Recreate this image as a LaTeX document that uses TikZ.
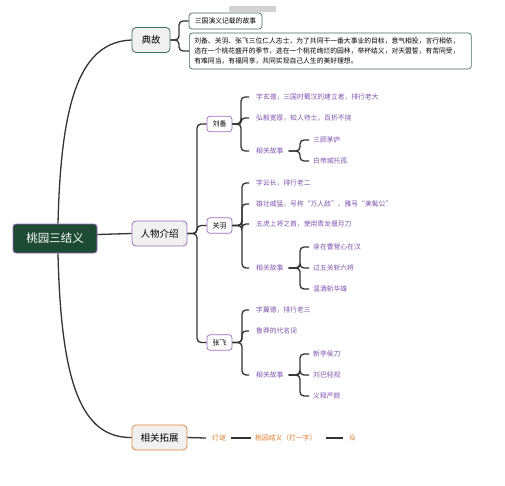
\documentclass[tikz,border=0pt]{standalone}
\usepackage{fontspec}
\setmainfont{Noto Sans CJK SC}
\usepackage{xcolor}
\usetikzlibrary{positioning}
\definecolor{rootgreen}{HTML}{1C4A33}
\definecolor{lilac}{HTML}{9A6CC0}
\definecolor{sage}{HTML}{3F6E5C}
\definecolor{amber}{HTML}{E0843E}
\definecolor{boxgray}{HTML}{F1F1F1}
\definecolor{linegray}{HTML}{333333}
\definecolor{leafpurple}{HTML}{7E52AE}
\definecolor{leaforange}{HTML}{E07A28}

\begin{document}
\begin{tikzpicture}[x=1pt,y=-1pt,
  rootbox/.style={draw=lilac,fill=rootgreen,text=white,rounded corners=3pt,line width=0.8pt,
    minimum width=84pt,minimum height=29pt,inner sep=0pt,font=\fontsize{11.5}{12}\selectfont},
  mainbox/.style={fill=boxgray,rounded corners=4pt,line width=0.8pt,minimum height=25pt,
    inner sep=0pt,font=\fontsize{9.5}{10}\selectfont},
  notebox/.style={draw=sage,fill=white,rounded corners=3pt,line width=0.7pt,inner sep=0pt,
    font=\fontsize{6.8}{10}\selectfont},
  namebox/.style={draw=lilac,fill=white,rounded corners=3pt,line width=0.7pt,minimum width=25pt,
    minimum height=15.5pt,inner sep=0pt,font=\fontsize{7}{8}\selectfont},
  leaf/.style={anchor=west,text=leafpurple,inner sep=0pt,font=\fontsize{6.8}{8}\selectfont},
  riddle/.style={anchor=west,text=leaforange,inner sep=0pt,font=\fontsize{6.8}{8}\selectfont},
  link/.style={draw=linegray,line width=1.3pt},
  bracket/.style={link,rounded corners=4pt}]
\useasboundingbox (0,0) rectangle (505,485);

%Watermark strip
\fill[gray!35,rounded corners=1pt] (229,6) rectangle (276,12);

%Root
\node[rootbox] (root) at (55,238.5) {桃园三结义};

%Main branches
\node[mainbox,draw=sage,minimum width=38pt] (dg) at (151,40) {典故};
\node[mainbox,draw=lilac,minimum width=55pt] (rw) at (159.5,233.5) {人物介绍};
\node[mainbox,draw=amber,minimum width=55pt] (tz) at (159.5,437.5) {相关拓展};

\draw[link] ([xshift=3pt]root.north) .. controls (61,95) and (82,42) .. (dg.west);
\draw[link] ([yshift=4pt]root.east) -- (rw.west);
\draw[link] ([xshift=3pt]root.south) .. controls (61,385) and (82,438) .. (tz.west);

%Branch: dian gu
\node[notebox,minimum width=73pt,minimum height=16pt] (dg1) at (225.5,21) {三国演义记载的故事};
\node[notebox,anchor=west,text width=272pt,inner xsep=5pt,minimum height=36pt,align=left] (dg2) at (189,51)
  {刘备、关羽、张飞三位仁人志士，为了共同干一番大事业的目标，意气相投，言行相依，\\
   选在一个桃花盛开的季节，选在一个桃花绚烂的园林，举杯结义，对天盟誓，有苦同受，\\
   有难同当，有福同享，共同实现自己人生的美好理想。};
\foreach \c in {dg1,dg2}
  \draw[bracket] (dg.east) -- (179,40) |- (\c.west);

%Branch: ren wu
\node[namebox] (lb) at (219.5,124) {刘备};
\node[namebox] (gy) at (219.5,225.5) {关羽};
\node[namebox] (zf) at (219.5,342.5) {张飞};
\foreach \c in {lb,gy,zf}
  \draw[bracket] (rw.east) -- (197,233.5) |- (\c.west);

% Liu Bei
\node[leaf] (lb1) at (256,97) {字玄德，三国时蜀汉的建立者，排行老大};
\node[leaf] (lb2) at (256,118) {弘毅宽厚，知人待士，百折不挠};
\node[leaf] (lb3) at (256,151) {相关故事};
\foreach \c in {lb1,lb2,lb3}
  \draw[bracket] (lb.east) -- (241,124) |- ([xshift=-7pt]\c.west);
\node[leaf] (lb31) at (313,140) {三顾茅庐};
\node[leaf] (lb32) at (313,161) {白帝城托孤};
\foreach \c in {lb31,lb32}
  \draw[bracket] ([xshift=5pt]lb3.east) -- (300,151) |- ([xshift=-4pt]\c.west);

% Guan Yu
\node[leaf] (gy1) at (256,183) {字云长，排行老二};
\node[leaf] (gy2) at (256,204) {雄壮威猛，号称“万人敌”、雅号“美髯公”};
\node[leaf] (gy3) at (256,224) {五虎上将之首，使用青龙偃月刀};
\node[leaf] (gy4) at (256,268) {相关故事};
\foreach \c in {gy1,gy2,gy3,gy4}
  \draw[bracket] (gy.east) -- (242,225.5) |- ([xshift=-7pt]\c.west);
\node[leaf] (gy41) at (313,247) {身在曹营心在汉};
\node[leaf] (gy42) at (313,268) {过五关斩六将};
\node[leaf] (gy43) at (313,289) {温酒斩华雄};
\foreach \c in {gy41,gy42,gy43}
  \draw[bracket] ([xshift=5pt]gy4.east) -- (300,268) |- ([xshift=-4pt]\c.west);

% Zhang Fei
\node[leaf] (zf1) at (256,310) {字翼德，排行老三};
\node[leaf] (zf2) at (256,331) {鲁莽的代名词};
\node[leaf] (zf3) at (256,375) {相关故事};
\foreach \c in {zf1,zf2,zf3}
  \draw[bracket] (zf.east) -- (242,342.5) |- ([xshift=-7pt]\c.west);
\node[leaf] (zf31) at (313,354) {新亭侯刀};
\node[leaf] (zf32) at (313,375) {刘巴轻视};
\node[leaf] (zf33) at (313,396) {义释严颜};
\foreach \c in {zf31,zf32,zf33}
  \draw[bracket] ([xshift=5pt]zf3.east) -- (300,375) |- ([xshift=-4pt]\c.west);

%Branch: tuo zhan
\node[riddle] (dm) at (212,438) {灯谜};
\node[riddle] (my) at (255,438) {桃园结义（打一字）};
\node[riddle] (zh) at (349,438) {众};
\draw[link] (tz.east) -- ([xshift=-6pt]dm.west);
\draw[link] ([xshift=5pt]dm.east) -- ([xshift=-4pt]my.west);
\draw[link] ([xshift=9pt]my.east) -- ([xshift=-6pt]zh.west);
\end{tikzpicture}
\end{document}
